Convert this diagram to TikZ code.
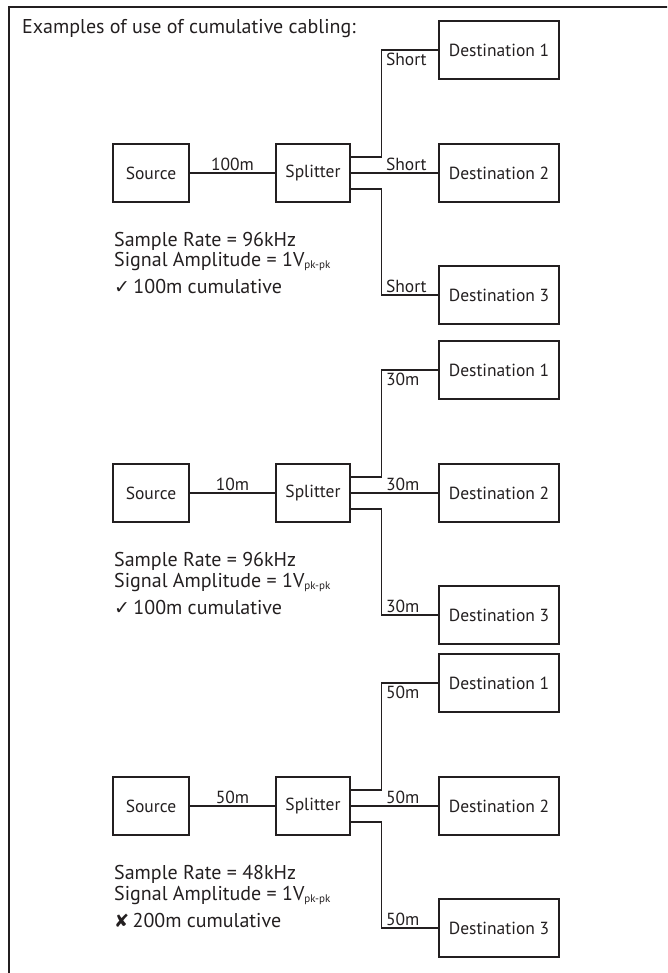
\documentclass[tikz,border=0pt]{standalone}
\usepackage{fontspec}
\setmainfont{PT Sans}
\newfontfamily\symfont{DejaVu Sans}
\definecolor{ink}{HTML}{231F20}
\tikzset{
  box/.style={draw=ink, line width=1.6pt, inner sep=0pt, minimum height=58pt, font=\fontsize{17.5}{19}\selectfont, text=ink},
  wire/.style={draw=ink, line width=1.2pt},
  lbl/.style={inner sep=0pt, font=\fontsize{17.5}{19}\selectfont, text=ink},
  info/.style={inner sep=0pt, anchor=west, font=\fontsize{20}{21}\selectfont, text=ink}
}
\newcommand{\pkpk}{\raisebox{-0.2ex}{\fontsize{11}{11}\selectfont pk-pk}}
% #1 id, #2 centre y, #3 main cable, #4 branch cable, #5 sample rate, #6 result line
\newcommand{\cablepanel}[6]{%
  \node[box, minimum width=76pt] (src#1) at (151,#2) {Source};
  \node[box, minimum width=74pt] (spl#1) at (313,#2) {Splitter};
  \node[box, minimum width=120pt] (da#1) at (499,#2-123) {Destination 1};
  \node[box, minimum width=120pt] (db#1) at (499,#2) {Destination 2};
  \node[box, minimum width=120pt] (dc#1) at (499,#2+122) {Destination 3};
  \draw[wire] (src#1.east) -- node[lbl, above=2pt] (m#1) {#3} (spl#1.west);
  \draw[wire] ([yshift=16pt]spl#1.east) -- ++(31,0) coordinate (ua#1) |- coordinate (uc#1) (da#1.west);
  \draw[wire] (spl#1.east) -- (db#1.west);
  \draw[wire] ([yshift=-16pt]spl#1.east) -- ++(31,0) coordinate (la#1) |- coordinate (lc#1) (dc#1.west);
  \node[lbl, anchor=north west] (t1#1) at ([xshift=4pt,yshift=-3pt]uc#1) {#4};
  \node[lbl, anchor=south west] (t2#1) at ([xshift=35pt,yshift=2pt]spl#1.east) {#4};
  \node[lbl, anchor=south west] (t3#1) at ([xshift=4pt,yshift=2pt]lc#1) {#4};
  \node[info] (r#1) at (114,#2+68) {Sample Rate = #5};
  \node[info] (a#1) at (114,#2+89) {Signal Amplitude = 1V\pkpk};
  \node[info] (c#1) at (114,#2+114) {#6};
}
\begin{document}
\begin{tikzpicture}[x=1pt,y=-1pt]
  \useasboundingbox (0,0) rectangle (667,973);
  \clip (0,0) rectangle (667,973);
  \draw[ink, line width=2.2pt] (9,1100) -- (9,7) -- (800,7);
  \node[info] (title) at (22,29) {Examples of use of cumulative cabling:};
  \cablepanel{1}{173}{100m}{Short}{96kHz}{{\symfont\fontsize{19}{20}\selectfont ✓}\,100m cumulative}
  \cablepanel{2}{493}{10m}{30m}{96kHz}{{\symfont\fontsize{19}{20}\selectfont ✓}\,100m cumulative}
  \cablepanel{3}{806}{50m}{50m}{48kHz}{{\symfont\fontsize{18}{20}\selectfont ✘}\,200m cumulative}
\end{tikzpicture}
\end{document}
